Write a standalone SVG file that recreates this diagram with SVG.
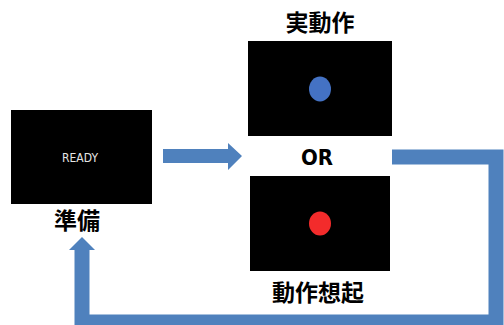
<svg xmlns="http://www.w3.org/2000/svg" width="504" height="325" viewBox="0 0 504 325">
<style>
.box{fill:#000}
.lbl{font-family:"Noto Sans CJK JP","Noto Sans CJK SC",sans-serif;font-weight:bold;font-size:23px;fill:#000;text-anchor:middle}
.or{font-family:"Liberation Sans Narrow","DejaVu Sans Condensed","Liberation Sans",sans-serif;font-stretch:condensed;font-weight:bold;font-size:22px;fill:#000;text-anchor:middle}
.conn{fill:none;stroke:#4F81BD;stroke-width:15}
.head{fill:#4F81BD}
</style>
<rect width="504" height="325" fill="#fff"/>
<g id="connectors">
<polygon class="head" points="163,149 228,149 228,143 242,156 228,170 228,163 163,163"/>
<polyline class="conn" points="392,157 496,157 496,322 82,322 82,249"/>
<polygon class="head" points="69,250 95,250 82,237"/>
</g>
<g id="ready">
<rect class="box" x="11" y="110" width="141" height="94"/>
<text x="80" y="162" font-family="'Liberation Sans Narrow','DejaVu Sans Condensed','Liberation Sans',sans-serif" font-stretch="condensed" font-size="12" fill="#e6e6e6" text-anchor="middle">READY</text>
<text class="lbl" x="77" y="229" font-size="21">準備</text>
</g>
<g id="actual">
<text class="lbl" x="320" y="31">実動作</text>
<rect class="box" x="248" y="41" width="144" height="95"/>
<ellipse cx="320" cy="89" rx="11" ry="12.5" fill="#4472C4"/>
</g>
<g id="or">
<text class="or" x="317" y="165">OR</text>
</g>
<g id="imagery">
<rect class="box" x="250" y="176" width="140" height="95"/>
<ellipse cx="320" cy="223.5" rx="11" ry="12" fill="#F32B2B"/>
<text class="lbl" x="318" y="301">動作想起</text>
</g>
</svg>
